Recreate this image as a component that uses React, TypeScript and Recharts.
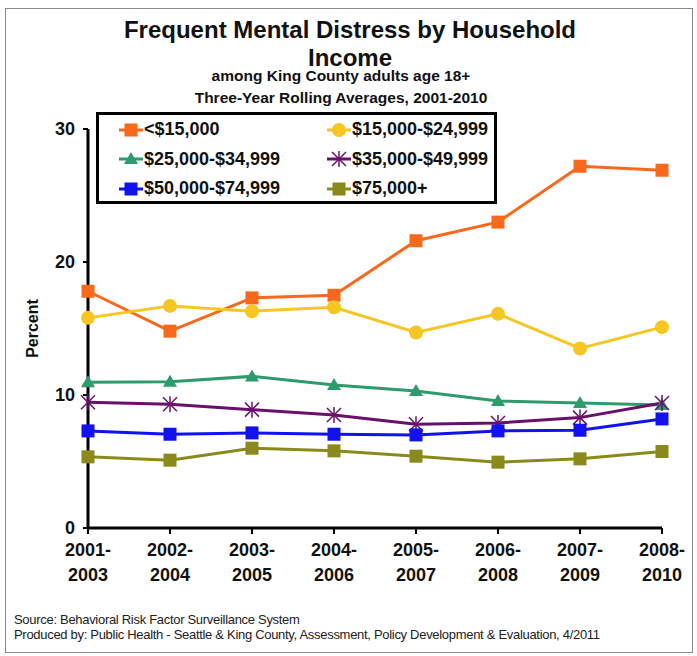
// Frequent mental distress by household income — Recharts LineChart,
// custom markers, boxed legend and two-line period ticks.

import { Line, LineChart, XAxis, YAxis } from 'recharts';

const periods = ['2001-2003', '2002-2004', '2003-2005', '2004-2006', '2005-2007', '2006-2008', '2007-2009', '2008-2010'];
const under15k = [17.8, 14.8, 17.3, 17.5, 21.6, 23.0, 27.2, 26.9];
const from15to25k = [15.8, 16.7, 16.3, 16.6, 14.7, 16.1, 13.5, 15.1];
const from25to35k = [10.95, 11.0, 11.4, 10.75, 10.3, 9.55, 9.4, 9.25];
const from35to50k = [9.45, 9.3, 8.9, 8.5, 7.8, 7.9, 8.3, 9.4];
const from50to75k = [7.3, 7.05, 7.15, 7.05, 7.0, 7.3, 7.35, 8.2];
const over75k = [5.35, 5.1, 6.0, 5.8, 5.4, 4.95, 5.2, 5.75];
const yTicks = [0, 10, 20, 30];

type Marker = 'square' | 'circle' | 'triangle' | 'star';

const series: { key: string; name: string; color: string; marker: Marker; values: number[] }[] = [
  { key: 'a', name: '<$15,000', color: '#F8691C', marker: 'square', values: under15k },
  { key: 'b', name: '$15,000-$24,999', color: '#F7C623', marker: 'circle', values: from15to25k },
  { key: 'c', name: '$25,000-$34,999', color: '#2E9B6C', marker: 'triangle', values: from25to35k },
  { key: 'd', name: '$35,000-$49,999', color: '#6A0F6A', marker: 'star', values: from35to50k },
  { key: 'e', name: '$50,000-$74,999', color: '#1212F0', marker: 'square', values: from50to75k },
  { key: 'f', name: '$75,000+', color: '#8A8A1C', marker: 'square', values: over75k },
];

const data = periods.map((p, i) => {
  const row: Record<string, string | number> = { period: p };
  series.forEach((s) => {
    row[s.key] = s.values[i];
  });
  return row;
});

const FONT = 'Arial, "Liberation Sans", sans-serif';

function MarkerShape({ kind, cx, cy, color }: { kind: Marker; cx: number; cy: number; color: string }) {
  if (kind === 'square') {
    return <rect x={cx - 6.5} y={cy - 6.5} width={13} height={13} fill={color} />;
  }
  if (kind === 'circle') {
    return <circle cx={cx} cy={cy} r={7} fill={color} />;
  }
  if (kind === 'triangle') {
    return <polygon points={`${cx},${cy - 7} ${cx + 7},${cy + 5} ${cx - 7},${cy + 5}`} fill={color} />;
  }
  return (
    <g stroke={color} strokeWidth={1.5}>
      <line x1={cx - 7} y1={cy - 7} x2={cx + 7} y2={cy + 7} />
      <line x1={cx - 7} y1={cy + 7} x2={cx + 7} y2={cy - 7} />
      <line x1={cx} y1={cy - 8} x2={cx} y2={cy + 8} />
    </g>
  );
}

function PeriodTick(props: any) {
  const { x, y, payload } = props;
  const [a, b] = String(payload.value).split('-');
  return (
    <g transform={`translate(${x},${y})`}>
      <text textAnchor="middle" fontFamily={FONT} fontWeight="bold" fontSize={18} fill="#111">
        <tspan x={0} dy={20}>{a}-</tspan>
        <tspan x={0} dy={25}>{b}</tspan>
      </text>
    </g>
  );
}

function LegendBox() {
  return (
    <div
      style={{
        position: 'absolute',
        left: 96,
        top: 112,
        width: 395,
        height: 86,
        border: '3px solid #000',
        background: '#fff',
        display: 'grid',
        gridTemplateColumns: '208px 187px',
        gridTemplateRows: 'repeat(3, 29.5px)',
        alignItems: 'center',
        fontFamily: FONT,
        fontWeight: 'bold',
        fontSize: 18,
        color: '#111',
      }}
    >
      {series.map((s) => (
        <div key={s.key} style={{ display: 'flex', alignItems: 'center', paddingLeft: 20 }}>
          <svg width={24} height={16} style={{ marginRight: 1 }}>
            <line x1={0} y1={8} x2={24} y2={8} stroke={s.color} strokeWidth={3} />
            <MarkerShape kind={s.marker} cx={12} cy={8} color={s.color} />
          </svg>
          <span>{s.name}</span>
        </div>
      ))}
    </div>
  );
}

export default function App() {
  return (
    <div style={{ position: 'absolute', left: 0, top: 0, width: 697, height: 656, background: '#fff' }}>
      <div
        style={{
          position: 'absolute',
          left: 5,
          top: 8,
          width: 686,
          height: 643,
          border: '1px solid #8a8a8a',
        }}
      />
      <LineChart
        width={697}
        height={656}
        data={data}
        margin={{ top: 129, right: 35, left: 40, bottom: 68 }}
        style={{ position: 'absolute', left: 0, top: 0 }}
      >
        <XAxis
          dataKey="period"
          axisLine={{ stroke: '#000', strokeWidth: 3 }}
          tickLine={{ stroke: '#000', strokeWidth: 2 }}
          tickSize={6}
          height={60}
          interval={0}
          tick={<PeriodTick />}
        />
        <YAxis
          domain={[0, 30]}
          ticks={yTicks}
          width={48}
          axisLine={{ stroke: '#000', strokeWidth: 3 }}
          tickLine={{ stroke: '#000', strokeWidth: 2 }}
          tickSize={5}
          tickMargin={8}
          tick={{ fill: '#111', fontSize: 18, fontWeight: 'bold', fontFamily: FONT }}
          label={{
            value: 'Percent',
            angle: -90,
            position: 'insideLeft',
            offset: -8,
            style: { fill: '#111', fontSize: 16, fontWeight: 'bold', fontFamily: FONT, textAnchor: 'middle' },
          }}
        />
        {series.map((s) => (
          <Line
            key={s.key}
            dataKey={s.key}
            name={s.name}
            type="linear"
            stroke={s.color}
            strokeWidth={3}
            isAnimationActive={false}
            activeDot={false}
            dot={(p: any) => <MarkerShape key={`${s.key}-${p.index}`} kind={s.marker} cx={p.cx} cy={p.cy} color={s.color} />}
          />
        ))}
      </LineChart>
      <LegendBox />
      <div
        style={{
          position: 'absolute',
          left: 0,
          width: 700,
          top: 16,
          textAlign: 'center',
          fontFamily: FONT,
          fontWeight: 'bold',
          fontSize: 24,
          lineHeight: '28px',
          color: '#111',
        }}
      >
        Frequent Mental Distress by Household
        <br />
        Income
      </div>
      <div
        style={{
          position: 'absolute',
          left: 0,
          width: 682,
          top: 65,
          textAlign: 'center',
          fontFamily: FONT,
          fontWeight: 'bold',
          fontSize: 15.5,
          lineHeight: '22px',
          color: '#111',
        }}
      >
        among King County adults age 18+
        <br />
        Three-Year Rolling Averages, 2001-2010
      </div>
      <div
        style={{
          position: 'absolute',
          left: 14,
          top: 612,
          fontFamily: FONT,
          fontSize: 13,
          letterSpacing: -0.3,
          lineHeight: '15px',
          color: '#222',
        }}
      >
        Source: Behavioral Risk Factor Surveillance System
        <br />
        Produced by: Public Health - Seattle &amp; King County, Assessment, Policy Development &amp; Evaluation, 4/2011
      </div>
    </div>
  );
}
